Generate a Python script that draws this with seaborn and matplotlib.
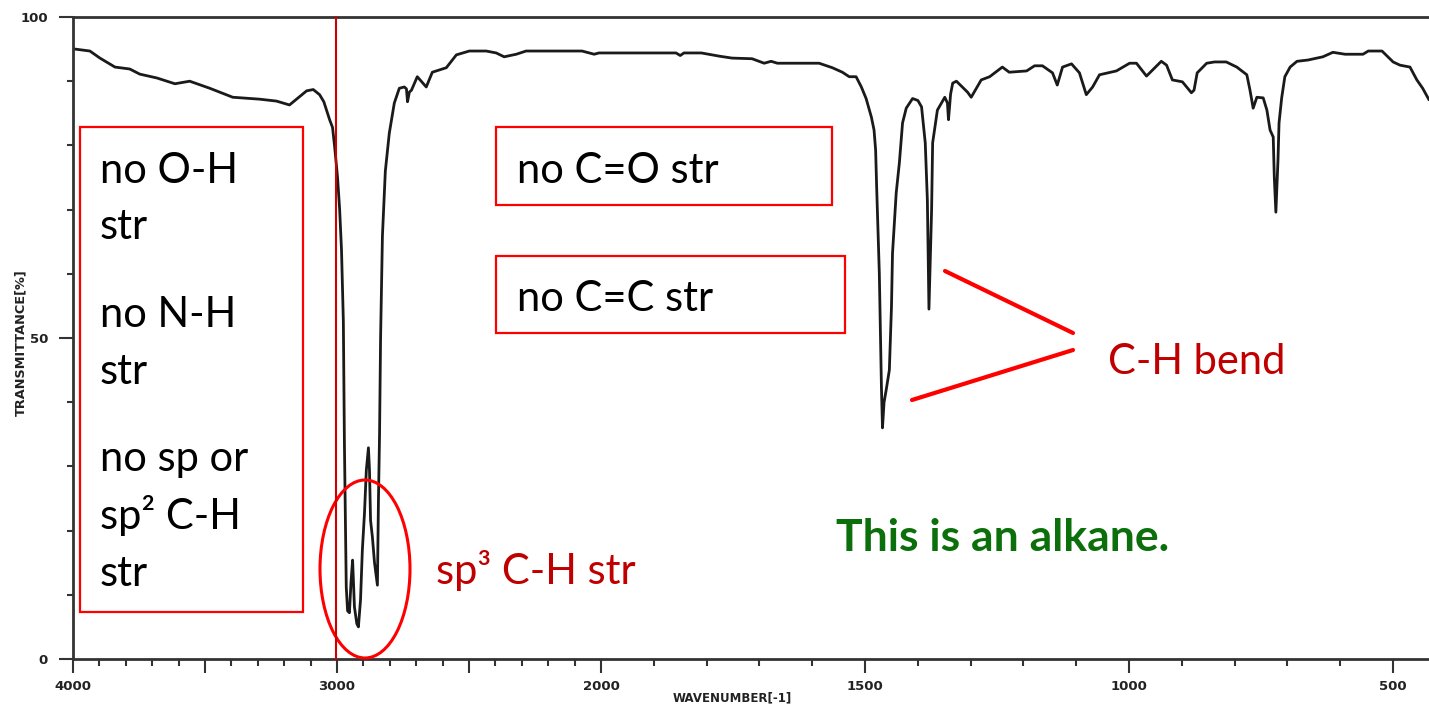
import numpy as np
import pandas as pd
import matplotlib
matplotlib.use("Agg")
import matplotlib.pyplot as plt
import matplotlib.patches as mpatches
import seaborn as sns

# ---------------- data ----------------
wavenumber = [4000, 3992, 3936, 3898, 3841, 3785, 3747, 3682, 3614, 3558, 3482, 3395,
              3293, 3229, 3180, 3115, 3090, 3066, 3050, 3028, 3017, 3009, 2998, 2990,
              2983, 2976, 2972, 2968, 2965, 2960, 2953, 2947, 2941, 2934, 2925, 2919,
              2911, 2904, 2896, 2889, 2881, 2877, 2873, 2866, 2858, 2851, 2847, 2843,
              2839, 2835, 2828, 2817, 2802, 2783, 2764, 2745, 2737, 2733, 2726, 2718,
              2696, 2662, 2639, 2586, 2548, 2499, 2435, 2397, 2367, 2321, 2284, 2072,
              2026, 2008, 1858, 1850, 1843, 1810, 1776, 1752, 1714, 1691, 1678, 1666,
              1587, 1562, 1543, 1530, 1517, 1507, 1498, 1488, 1483, 1480, 1478, 1473,
              1469, 1467, 1464, 1460, 1454, 1450, 1448, 1441, 1435, 1429, 1422, 1410,
              1400, 1393, 1386, 1382, 1379, 1374, 1372, 1363, 1349, 1344, 1342, 1338,
              1334, 1327, 1306, 1299, 1280, 1264, 1240, 1227, 1194, 1179, 1164, 1145,
              1136, 1126, 1109, 1094, 1081, 1069, 1056, 1024, 999, 986, 967, 939,
              929, 918, 899, 882, 877, 871, 853, 838, 816, 796, 777, 771,
              765, 758, 746, 739, 733, 727, 725, 722, 718, 716, 711, 705,
              695, 682, 661, 633, 614, 591, 557, 547, 521, 500, 487, 468,
              455, 444, 432]
transmittance = [95.0, 95.0, 94.7, 93.6, 92.2, 91.9, 91.1, 90.5, 89.6, 90.0, 88.9, 87.5,
                 87.2, 86.9, 86.3, 88.5, 88.7, 87.9, 86.8, 84.0, 82.8, 79.8, 75.0, 70.0,
                 63.7, 52.6, 33.6, 20.0, 11.2, 7.5, 7.2, 12.0, 15.4, 8.1, 5.5, 5.0,
                 9.2, 17.0, 22.7, 29.4, 32.9, 29.4, 21.6, 19.0, 15.0, 12.8, 11.5, 25.0,
                 34.7, 50.0, 65.9, 76.0, 81.9, 86.6, 88.9, 89.1, 88.8, 86.8, 88.3, 88.6,
                 90.7, 89.1, 91.4, 92.1, 94.1, 94.7, 94.7, 94.4, 93.8, 94.2, 94.7, 94.7,
                 94.2, 94.4, 94.4, 94.0, 94.4, 94.4, 93.9, 93.6, 93.5, 92.8, 93.1, 92.8,
                 92.8, 92.1, 91.4, 90.7, 90.7, 89.1, 87.3, 84.4, 82.4, 79.3, 73.4, 60.1,
                 42.4, 36.0, 40.0, 41.9, 45.0, 54.8, 63.2, 72.6, 77.3, 83.5, 85.8, 87.3,
                 87.0, 86.0, 80.4, 71.5, 54.5, 69.9, 80.4, 85.5, 87.5, 86.6, 84.0, 88.0,
                 89.7, 90.0, 88.3, 87.5, 90.2, 90.7, 92.2, 91.4, 91.6, 92.4, 92.4, 91.3,
                 89.4, 92.2, 92.7, 91.3, 87.9, 89.1, 91.0, 91.6, 92.8, 92.8, 90.8, 93.1,
                 92.5, 90.2, 89.9, 88.2, 88.6, 91.3, 92.8, 93.0, 93.0, 92.2, 91.0, 88.6,
                 85.8, 87.5, 87.4, 85.5, 82.4, 81.3, 75.1, 69.6, 77.7, 83.5, 87.4, 90.7,
                 92.2, 93.1, 93.3, 93.8, 94.5, 94.2, 94.2, 94.7, 94.7, 93.0, 92.5, 92.2,
                 90.2, 88.9, 87.1]

major_ticks = [4000, 3500, 3000, 2500, 2000, 1500, 1000, 500]
major_labels = ["4000", "", "3000", "", "2000", "1500", "1000", "500"]
minor_ticks = [w for w in range(3900, 400, -100) if w not in major_ticks]
y_major = [0, 50, 100]
y_labels = ["0", "50", "100"]
y_minor = [10, 20, 30, 40, 60, 70, 80, 90]

df = pd.DataFrame({"wavenumber": wavenumber, "transmittance": transmittance})

# ---------------- figure ----------------
W, H = 1429, 706
sns.set_theme(style="ticks")
plt.rcParams["font.family"] = ["DejaVu Sans"]

fig = plt.figure(figsize=(W / 100, H / 100), dpi=100)
ax = fig.add_axes([73 / W, (H - 659) / H, (W - 73) / W, (659 - 17) / H])

def fwd(w):
    w = np.asarray(w, dtype=float)
    return np.where(w >= 2000, w, 2 * w - 2000)

def inv(x):
    x = np.asarray(x, dtype=float)
    return np.where(x >= 2000, x, (x + 2000) / 2)

ax.set_xscale("function", functions=(fwd, inv))

sns.lineplot(data=df, x="wavenumber", y="transmittance", ax=ax, color="#1a1a1a",
             linewidth=2.0, estimator=None, sort=False)

ax.set_xlim(4000, 432)
ax.set_ylim(0, 100)

ax.set_xticks(major_ticks)
ax.set_xticklabels(major_labels)
ax.set_xticks(minor_ticks, minor=True)
ax.set_yticks(y_major)
ax.set_yticklabels(y_labels)
ax.set_yticks(y_minor, minor=True)

for lab in ax.get_xticklabels() + ax.get_yticklabels():
    lab.set_fontsize(9.5)
    lab.set_fontweight("bold")
    lab.set_color("#222222")

ax.tick_params(axis="x", which="major", direction="out", length=10, width=1.5,
               color="#333333", pad=5)
ax.tick_params(axis="x", which="minor", direction="out", length=5, width=1.5,
               color="#333333")
ax.tick_params(axis="y", which="major", direction="out", length=10, width=1.5,
               color="#333333", pad=8)
ax.tick_params(axis="y", which="minor", direction="out", length=4, width=1.5,
               color="#333333")

for s in ["left", "bottom", "top"]:
    ax.spines[s].set_color("#333333")
    ax.spines[s].set_linewidth(2)
ax.spines["right"].set_visible(False)

ax.set_xlabel("WAVENUMBER[-1]", fontsize=8.5, fontweight="bold", color="#222222",
              va="center")
ax.set_ylabel("TRANSMITTANCE[%]", fontsize=9.3, fontweight="bold", color="#222222")
ax.xaxis.set_label_coords((732 - 73) / (W - 73), -(698 - 659) / (659 - 17))
ax.yaxis.set_label_coords(-(73 - 27) / (W - 73), (659 - 343) / (659 - 17))

# ---------------- annotations (figure pixel coordinates) ----------------
def fx(px):
    return px / W

def fy(py):
    return 1 - py / H

TF = fig.transFigure
ann_font = "Lato"
RED = "#ff0000"
DARKRED = "#c00000"
GREEN = "#0b700b"

def box(x0, y0, x1, y1):
    r = mpatches.Rectangle((fx(x0), fy(y1)), (x1 - x0) / W, (y1 - y0) / H,
                           transform=TF, fill=False, edgecolor=RED, linewidth=1.6)
    fig.add_artist(r)

box(80, 127, 303, 612)
box(496, 127, 832, 205)
box(496, 256, 845, 333)

fs_box = 30
lines_left = [("no O-H", 183), ("str", 239), ("no N-H", 327), ("str", 384),
              ("no sp or", 471), ("sp\u00b2 C-H", 529), ("str", 586)]
for txt, base in lines_left:
    fig.text(fx(100), fy(base), txt, transform=TF, fontsize=fs_box, family=ann_font,
             color="black", va="baseline", ha="left")
fig.text(fx(517), fy(183), "no C=O str", transform=TF, fontsize=fs_box, family=ann_font,
         color="black", va="baseline", ha="left")
fig.text(fx(517), fy(311), "no C=C str", transform=TF, fontsize=fs_box, family=ann_font,
         color="black", va="baseline", ha="left")

# vertical red line
fig.add_artist(plt.Line2D([fx(336), fx(336)], [fy(17), fy(659)], transform=TF,
                          color="#d00000", linewidth=1.5))

# ellipse around C-H stretch
fig.add_artist(mpatches.Ellipse((fx(365), fy(569)), 90 / W, 178 / H, transform=TF,
                                fill=False, edgecolor=RED, linewidth=2.2))

fig.text(fx(436), fy(584), "sp\u00b3 C-H str", transform=TF, fontsize=30,
         family=ann_font, color=DARKRED, va="baseline", ha="left")
fig.text(fx(1108), fy(374), "C-H bend", transform=TF, fontsize=30,
         family=ann_font, color=DARKRED, va="baseline", ha="left")

fig.add_artist(plt.Line2D([fx(945), fx(1073)], [fy(271), fy(333)], transform=TF,
                          color=RED, linewidth=3))
fig.add_artist(plt.Line2D([fx(912), fx(1073)], [fy(400), fy(350)], transform=TF,
                          color=RED, linewidth=3))

fig.text(fx(836), fy(551), "This is an alkane.", transform=TF, fontsize=32,
         family=ann_font, fontweight="bold", color=GREEN, va="baseline", ha="left")

fig.savefig("out.png", dpi=100)
